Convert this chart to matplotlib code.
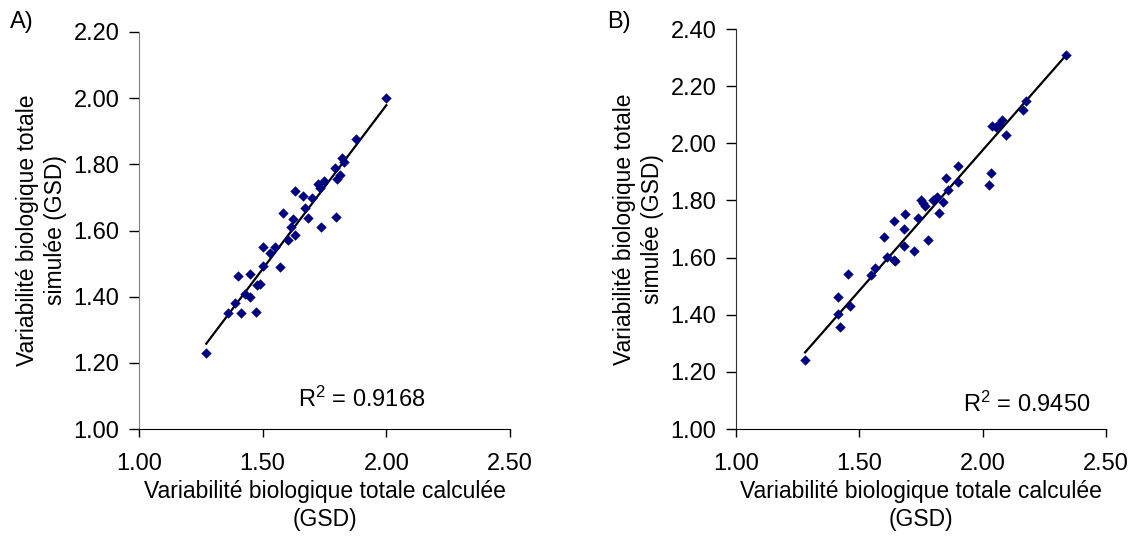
import matplotlib
matplotlib.use("Agg")
import matplotlib.pyplot as plt
import numpy as np
from matplotlib.ticker import FormatStrFormatter

plt.rcParams.update({
    "font.family": ["Liberation Sans", "DejaVu Sans"],
    "font.size": 16.5,
    "mathtext.default": "regular",
})

NAVY = "#000080"

# panel A: calculated vs simulated GSD
xa = [1.272, 2.000, 1.878, 1.821, 1.830, 1.791, 1.800, 1.814, 1.725, 1.749,
      1.733, 1.631, 1.663, 1.699, 1.670, 1.584, 1.622, 1.682, 1.735, 1.798,
      1.615, 1.631, 1.602, 1.500, 1.548, 1.529, 1.500, 1.569, 1.401, 1.450,
      1.478, 1.490, 1.429, 1.450, 1.389, 1.360, 1.411, 1.474]
ya = [1.229, 2.000, 1.878, 1.819, 1.808, 1.790, 1.757, 1.767, 1.741, 1.749,
      1.728, 1.720, 1.705, 1.698, 1.668, 1.653, 1.635, 1.639, 1.612, 1.642,
      1.610, 1.586, 1.570, 1.550, 1.550, 1.531, 1.493, 1.491, 1.461, 1.469,
      1.436, 1.439, 1.408, 1.399, 1.381, 1.351, 1.351, 1.355]

# panel B
xb = [1.280, 2.337, 2.174, 2.164, 2.079, 2.067, 2.054, 2.039, 2.093, 2.033,
      2.024, 1.900, 1.900, 1.850, 1.860, 1.840, 1.814, 1.797, 1.822, 1.749,
      1.757, 1.765, 1.739, 1.686, 1.641, 1.681, 1.601, 1.680, 1.720, 1.780,
      1.613, 1.641, 1.643, 1.563, 1.548, 1.453, 1.413, 1.412, 1.463, 1.423]
yb = [1.240, 2.309, 2.148, 2.117, 2.081, 2.069, 2.057, 2.060, 2.028, 1.896,
      1.854, 1.921, 1.866, 1.878, 1.836, 1.794, 1.811, 1.802, 1.756, 1.800,
      1.792, 1.780, 1.740, 1.754, 1.729, 1.699, 1.671, 1.641, 1.623, 1.661,
      1.602, 1.593, 1.588, 1.562, 1.540, 1.543, 1.461, 1.401, 1.432, 1.358]

# linear trendlines as drawn (slope, intercept)
trend_a = (0.990, -0.0013)
trend_b = (0.983, 0.0098)

r2_a, r2_b = "0.9168", "0.9450"
xticks = [1.0, 1.5, 2.0, 2.5]
yticks_a = [1.0, 1.2, 1.4, 1.6, 1.8, 2.0, 2.2]
yticks_b = [1.0, 1.2, 1.4, 1.6, 1.8, 2.0, 2.2, 2.4]

XLAB = "Variabilité biologique totale calculée\n(GSD)"
YLAB = "Variabilité biologique totale\nsimulée (GSD)"


def panel(ax, x, y, trend, yt, r2, r2pos, letter, lpos, leftcol):
    x = np.array(x); y = np.array(y)
    ax.scatter(x, y, marker="D", s=28, color=NAVY, zorder=3, linewidths=0)
    k, b = trend
    xx = np.array([x.min(), x.max()])
    ax.plot(xx, k * xx + b, color="black", lw=1.6, zorder=2)
    ax.set_xlim(1.0, 2.5); ax.set_ylim(yt[0], yt[-1])
    ax.set_xticks(xticks); ax.set_yticks(yt)
    ax.xaxis.set_major_formatter(FormatStrFormatter("%.2f"))
    ax.yaxis.set_major_formatter(FormatStrFormatter("%.2f"))
    for s in ("top", "right"):
        ax.spines[s].set_visible(False)
    ax.spines["left"].set_color(leftcol)
    ax.spines["bottom"].set_color("black")
    ax.tick_params(axis="y", length=7, width=1, pad=7, labelsize=17)
    ax.tick_params(axis="x", length=6, width=1, pad=11, labelsize=17)
    ax.set_xlabel(XLAB, linespacing=1.25, labelpad=4)
    ax.set_ylabel(YLAB, linespacing=1.25, labelpad=5)
    ax.text(r2pos[0], r2pos[1], "R$^2$ = " + r2, ha="left", va="center",
            fontsize=17, transform=ax.transData)
    ax.figure.text(lpos[0], lpos[1], letter, ha="left", va="center", fontsize=17)


fig = plt.figure(figsize=(11.31, 5.37), dpi=100)
axA = fig.add_axes([139 / 1131, 108 / 537, 371 / 1131, 397 / 537])
axB = fig.add_axes([736 / 1131, 108 / 537, 370 / 1131, 400 / 537])
panel(axA, xa, ya, trend_a, yticks_a, r2_a, (1.644, 1.089), "A)",
      (10 / 1131, 1 - 22 / 537), "#808080")
panel(axB, xb, yb, trend_b, yticks_b, r2_b, (1.919, 1.085), "B)",
      (607 / 1131, 1 - 22 / 537), "#303030")
fig.savefig("out.png", dpi=100)
